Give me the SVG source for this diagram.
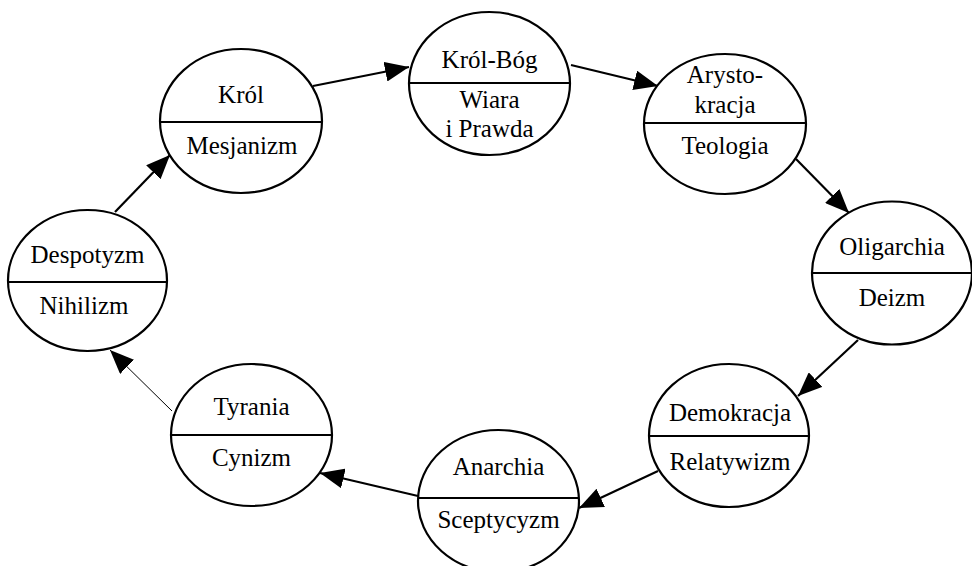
<svg xmlns="http://www.w3.org/2000/svg" width="972" height="566" viewBox="0 0 972 566">
<defs>
<style>
.n ellipse{fill:#fff;stroke:#000;stroke-width:2.2}
.n line{stroke:#000;stroke-width:2.2}
text{font-family:"Liberation Serif","Times New Roman",serif;font-size:25px;fill:#000;text-anchor:middle}
.c line{stroke:#000;stroke-width:2.2;marker-end:url(#ah)}
.c line.thin{stroke-width:1}
</style>
<marker id="ah" markerUnits="userSpaceOnUse" markerWidth="24" markerHeight="20" refX="24" refY="10" orient="auto">
<path d="M0,0 L24,10 L0,20 z" fill="#000"/>
</marker>
</defs>
<rect width="972" height="566" fill="#fff"/>
<g id="connectors" class="c">
<line x1="115" y1="212" x2="170" y2="155"/>
<line x1="313" y1="86" x2="409" y2="67"/>
<line x1="571" y1="65" x2="658" y2="86"/>
<line x1="796" y1="159" x2="849" y2="213"/>
<line x1="858" y1="340" x2="798" y2="396"/>
<line x1="658" y1="471" x2="579" y2="508"/>
<line x1="418" y1="496" x2="320" y2="473"/>
<line class="thin" x1="172" y1="411" x2="110" y2="350"/>
</g>
<g id="krol" class="n">
<ellipse cx="241" cy="121" rx="81" ry="72"/>
<line x1="160" y1="122" x2="322" y2="122"/>
<text x="241" y="103">Król</text>
<text x="242" y="154">Mesjanizm</text>
</g>
<g id="krol-bog" class="n">
<ellipse cx="489.5" cy="83.5" rx="80.5" ry="71.5"/>
<line x1="409" y1="83" x2="570" y2="83"/>
<text x="489.5" y="68">Król-Bóg</text>
<text x="489.5" y="108">Wiara</text>
<text x="489.5" y="137">i Prawda</text>
</g>
<g id="arystokracja" class="n">
<ellipse cx="725" cy="124" rx="81" ry="70"/>
<line x1="644" y1="123" x2="806" y2="123"/>
<text x="725" y="83">Arysto-</text>
<text x="725" y="113">kracja</text>
<text x="725" y="154">Teologia</text>
</g>
<g id="oligarchia" class="n">
<ellipse cx="892" cy="273" rx="80" ry="71.5"/>
<line x1="812" y1="273" x2="972" y2="273"/>
<text x="892" y="255">Oligarchia</text>
<text x="892" y="306">Deizm</text>
</g>
<g id="demokracja" class="n">
<ellipse cx="729" cy="435.5" rx="80" ry="71.5"/>
<line x1="649" y1="436" x2="809" y2="436"/>
<text x="730" y="421">Demokracja</text>
<text x="730" y="470">Relatywizm</text>
</g>
<g id="anarchia" class="n">
<ellipse cx="498.5" cy="501" rx="80.5" ry="71"/>
<line x1="418" y1="498" x2="579" y2="498"/>
<text x="498.5" y="475">Anarchia</text>
<text x="498.5" y="528">Sceptycyzm</text>
</g>
<g id="tyrania" class="n">
<ellipse cx="251.5" cy="435" rx="80.5" ry="71"/>
<line x1="171" y1="435" x2="332" y2="435"/>
<text x="251.5" y="415">Tyrania</text>
<text x="251.5" y="466">Cynizm</text>
</g>
<g id="despotyzm" class="n">
<ellipse cx="87.5" cy="280.5" rx="79.5" ry="70.5"/>
<line x1="8" y1="282" x2="167" y2="282"/>
<text x="87.5" y="263">Despotyzm</text>
<text x="84" y="314">Nihilizm</text>
</g>
</svg>
